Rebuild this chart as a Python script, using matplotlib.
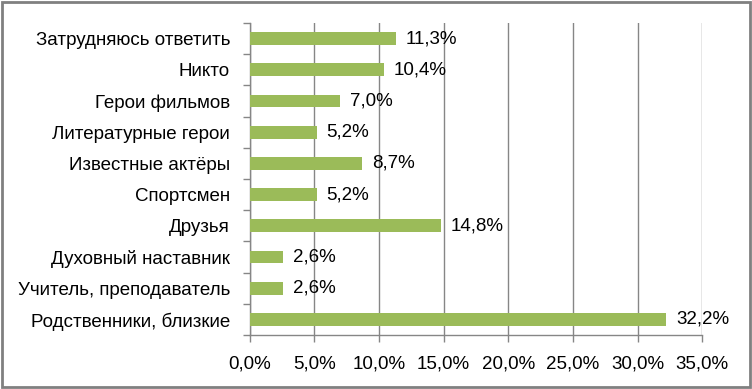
import matplotlib.pyplot as plt
from matplotlib.patches import Rectangle

categories = [
    "Затрудняюсь ответить",
    "Никто",
    "Герои фильмов",
    "Литературные герои",
    "Известные актёры",
    "Спортсмен",
    "Друзья",
    "Духовный наставник",
    "Учитель, преподаватель",
    "Родственники, близкие",
]
values = [11.3, 10.4, 7.0, 5.2, 8.7, 5.2, 14.8, 2.6, 2.6, 32.2]
xticks = [0, 5, 10, 15, 20, 25, 30, 35]

plt.rcParams["font.family"] = ["Liberation Sans", "DejaVu Sans"]
FS = 13.5

fig = plt.figure(figsize=(7.52, 3.89), dpi=100, facecolor="white")
ax = fig.add_axes([0.3318, 0.1388, 0.6022, 0.8022])

n = len(categories)
ypos = list(range(n))[::-1]
ax.barh(ypos, values, height=0.41, color="#9BBB59", zorder=3)

for y, v in zip(ypos, values):
    ax.annotate(f"{v:.1f}%".replace(".", ","), xy=(v, y), xytext=(7, 0),
                textcoords="offset points", va="center", ha="left", fontsize=FS, color="black")

ax.set_xlim(0, 35)
ax.set_ylim(-0.5, n - 0.5)
ax.set_xticks(xticks)
ax.set_xticklabels([f"{t:.1f}%".replace(".", ",") for t in xticks], fontsize=FS)
ax.set_yticks(ypos)
ax.set_yticklabels(categories, fontsize=FS)
ax.set_yticks([i - 0.5 for i in range(n + 1)], minor=True)
ax.tick_params(axis="y", which="major", length=0, pad=14)
ax.tick_params(axis="y", which="minor", length=5, color="#868686", width=1)
ax.tick_params(axis="x", which="major", length=5, color="#868686", width=1, pad=10)

ax.grid(True, axis="x", color="#868686", linewidth=1, zorder=0)
for s in ["top", "right"]:
    ax.spines[s].set_visible(False)
for s in ["left", "bottom"]:
    ax.spines[s].set_color("#868686")
    ax.spines[s].set_linewidth(1)

fig.patches.append(Rectangle((0.003, 0.004), 0.994, 0.992, transform=fig.transFigure,
                             fill=False, edgecolor="#808080", linewidth=2))

fig.savefig("out.png", dpi=100, facecolor="white")
